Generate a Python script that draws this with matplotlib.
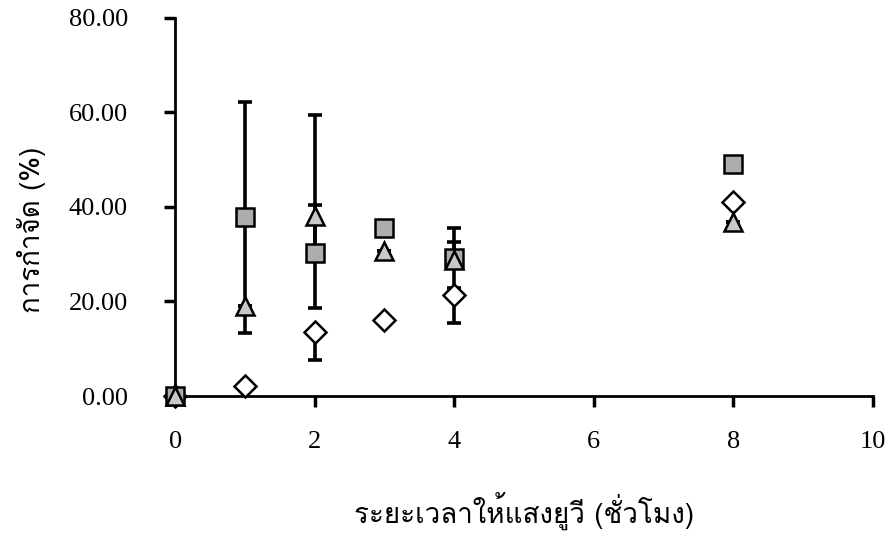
import matplotlib
matplotlib.use("Agg")
import matplotlib.pyplot as plt
from matplotlib import font_manager
from matplotlib.ft2font import FT2Font

# data
hours = [0, 1, 2, 3, 4, 8]
square = [0.0, 37.8, 30.3, 35.6, 29.2, 49.1]
square_lo = [0.0, 24.4, 0.0, 0.0, 6.3, 0.0]
square_hi = [0.0, 24.4, 29.2, 0.0, 6.3, 0.0]
triangle = [0.0, 19.0, 38.1, 30.7, 28.8, 36.8]
triangle_lo = [0.0, 0.0, 19.5, 0.0, 0.0, 0.0]
triangle_hi = [0.0, 0.0, 2.3, 0.0, 3.7, 0.0]
diamond = [0.0, 2.1, 13.5, 16.1, 21.4, 41.1]
diamond_lo = [0.0, 0.0, 5.9, 0.0, 6.0, 0.0]
diamond_hi = [0.0, 0.0, 0.0, 0.0, 0.0, 0.0]

xlabel = "ระยะเวลาให้แสงยูวี (ชั่วโมง)"
ylabel = "การกำจัด (%)"


def find_thai_font():
    for f in font_manager.fontManager.ttflist:
        try:
            cm = FT2Font(f.fname).get_charmap()
        except Exception:
            continue
        if ord("ร") in cm:
            return f.name
    return None


thai = find_thai_font()
thai_family = [thai, "DejaVu Sans"] if thai else ["DejaVu Sans"]

plt.rcParams["font.family"] = ["Liberation Serif", "DejaVu Serif"]

fig = plt.figure(figsize=(8.89, 5.41), dpi=100)
ax = fig.add_axes([0.197, 0.268, 0.785, 0.699])

ebar = dict(fmt="none", ecolor="black", elinewidth=2.6, capsize=5, capthick=2.6, zorder=2)
ax.errorbar(hours, square, yerr=[square_lo, square_hi], **ebar)
ax.errorbar(hours, triangle, yerr=[triangle_lo, triangle_hi], **ebar)
ax.errorbar(hours, diamond, yerr=[diamond_lo, diamond_hi], **ebar)

ax.plot(hours, diamond, "D", ms=11, mfc="white", mec="black", mew=1.8, ls="none",
        zorder=3, clip_on=False)
ax.plot(hours, square, "s", ms=13.5, mfc="#adadad", mec="black", mew=1.8, ls="none",
        zorder=4, clip_on=False)
ax.plot(hours, triangle, "^", ms=13.5, mfc="#c8c8c8", mec="black", mew=1.8, ls="none",
        zorder=5, clip_on=False)

ax.set_xlim(0, 10)
ax.set_ylim(0, 80)
ax.set_xticks([0, 2, 4, 6, 8, 10])
ax.set_yticks([0, 20, 40, 60, 80])
ax.set_yticklabels(["%.2f" % v for v in [0, 20, 40, 60, 80]])

for s in ["top", "right"]:
    ax.spines[s].set_visible(False)
for s in ["left", "bottom"]:
    ax.spines[s].set_linewidth(2.0)
    ax.spines[s].set_zorder(1)

ax.tick_params(axis="both", direction="out", length=8, width=2.5, labelsize=19)
ax.tick_params(axis="y", pad=26)
ax.tick_params(axis="x", pad=17)

ax.set_xlabel(xlabel, family=thai_family, fontsize=20, labelpad=28)
ax.set_ylabel(ylabel, family=thai_family, fontsize=20)
ax.yaxis.set_label_coords(-0.185, 0.44)

fig.savefig("out.png", dpi=100)
